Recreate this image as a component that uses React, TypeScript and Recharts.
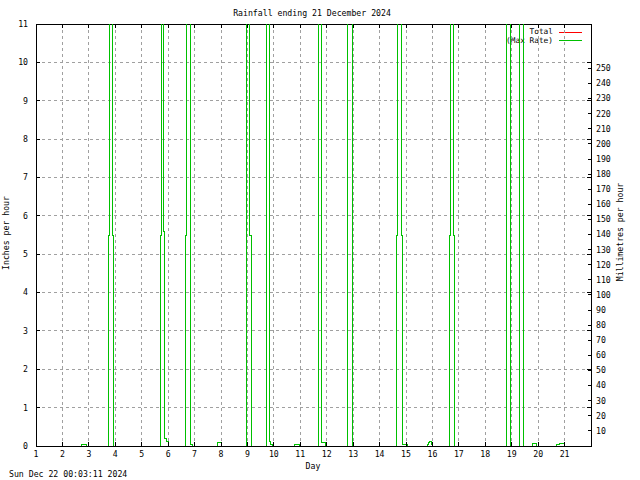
import { ComposedChart, Line, XAxis, YAxis, CartesianGrid, ReferenceArea } from 'recharts';

// plot frame (gnuplot style), used for inward tick marks
const PLOT_TOP = 24;
const PLOT_BOTTOM = 446;
const PLOT_LEFT = 36;
const PLOT_RIGHT = 591;
const TICK_LEN = 4;

const TITLE = 'Rainfall ending 21 December 2024';
const STAMP = 'Sun Dec 22 00:03:11 2024';

const dayTicks = [1, 2, 3, 4, 5, 6, 7, 8, 9, 10, 11, 12, 13, 14, 15, 16, 17, 18, 19, 20, 21];
const inchTicks = [0, 1, 2, 3, 4, 5, 6, 7, 8, 9, 10, 11];
const mmTicks = [10, 20, 30, 40, 50, 60, 70, 80, 90, 100, 110, 120, 130, 140, 150, 160, 170, 180, 190, 200, 210, 220, 230, 240, 250];

// max rain rate, inches/hour (step series, null = gap between showers)
const rateDays = [
  2.71, 2.71, 2.75, 2.87, 2.92, 2.92,
  3.74, 3.74, 3.78, 3.91, 3.94, 3.94,
  5.72, 5.72, 5.76, 5.84, 5.86, 5.93, 6.01, 6.03, 6.03,
  6.65, 6.65, 6.68, 6.84, 6.93, 6.93,
  7.85, 7.85, 8.02, 8.02,
  8.95, 8.95, 9.08, 9.14, 9.14,
  9.73, 9.73, 9.82, 9.88, 9.96, 9.96,
  10.79, 10.79, 10.97, 10.97,
  11.7, 11.7, 11.81, 11.94, 11.94,
  12.77, 12.77, 12.98, 12.98,
  14.64, 14.64, 14.69, 14.84, 14.88, 15.04, 15.04,
  15.8, 15.8, 15.85, 15.9, 15.95, 15.99, 15.99,
  16.65, 16.65, 16.69, 16.78, 16.83, 16.83,
  18.81, 18.81, 18.94, 18.94,
  19.3, 19.3, 19.45, 19.45,
  19.8, 19.8, 19.95, 19.95,
  20.71, 20.71, 20.8, 21.0,
];
const rateInches = [
  0, 0.03, 0.05, 0.03, 0, null,
  0, 5.5, 12, 5.5, 0, null,
  0, 5.5, 12, 5.6, 0.2, 0.11, 0.03, 0, null,
  0, 5.5, 12, 0.04, 0, null,
  0, 0.1, 0, null,
  0, 12, 5.5, 0, null,
  0, 12, 0.11, 0.05, 0, null,
  0, 0.04, 0, null,
  0, 12, 0.09, 0, null,
  0, 12, 0, null,
  0, 5.5, 12, 5.5, 0.05, 0, null,
  0, 0.04, 0.08, 0.12, 0.04, 0, null,
  0, 5.5, 12, 5.5, 0, null,
  0, 12, 0, null,
  0, 12, 0, null,
  0, 0.07, 0, null,
  0, 0.04, 0.07, 0,
];

const legendItems = [
  { label: 'Total', color: '#ff0000' },
  { label: '(Max Rate)', color: '#00c000' },
];

const data = rateDays.map((day, i) => ({ day, rate: rateInches[i] }));

const FONT = '"DejaVu Sans Mono", "Liberation Mono", monospace';

const DayTick = (props: any) => {
  const { x, y, payload } = props;
  return (
    <g shapeRendering="crispEdges">
      <line x1={x} x2={x} y1={PLOT_BOTTOM} y2={PLOT_BOTTOM - TICK_LEN} stroke="#000" />
      <line x1={x} x2={x} y1={PLOT_TOP} y2={PLOT_TOP + TICK_LEN} stroke="#000" />
      <text x={x} y={y} dy="0.35em" textAnchor="middle" fontSize={8.2} fill="#000">
        {payload.value}
      </text>
    </g>
  );
};

const InchTick = (props: any) => {
  const { x, y, payload } = props;
  return (
    <g shapeRendering="crispEdges">
      <line x1={PLOT_LEFT} x2={PLOT_LEFT + TICK_LEN} y1={y} y2={y} stroke="#000" />
      <line x1={PLOT_RIGHT - TICK_LEN} x2={PLOT_RIGHT} y1={y} y2={y} stroke="#000" />
      <text x={x} y={y} dy="0.35em" textAnchor="end" fontSize={8.2} fill="#000">
        {payload.value}
      </text>
    </g>
  );
};

const MmTick = (props: any) => {
  const { x, y, payload } = props;
  return (
    <g shapeRendering="crispEdges">
      <line x1={PLOT_RIGHT - 3} x2={PLOT_RIGHT} y1={y} y2={y} stroke="#000" />
      <text x={x - 3} y={y} dy="0.35em" textAnchor="start" fontSize={8.2} fill="#000">
        {payload.value}
      </text>
    </g>
  );
};

const App = () => {
  return (
    <div style={{ position: 'absolute', left: 0, top: 0, width: 640, height: 480, background: '#fff', fontFamily: FONT }}>
      <svg width={640} height={480} style={{ position: 'absolute', left: 0, top: 0 }} fontFamily={FONT} fontSize={8.2}>
        <text x={312} y={13} dy="0.35em" textAnchor="middle">{TITLE}</text>
        <text x={9} y={474.5} dy="0.35em">{STAMP}</text>
        <text x={313} y={466} dy="0.35em" textAnchor="middle">Day</text>
        <text transform="translate(6,233) rotate(-90)" dy="0.35em" textAnchor="middle">Inches per hour</text>
        <text transform="translate(620,232) rotate(-90)" dy="0.35em" textAnchor="middle">Millimetres per hour</text>
        {legendItems.map((item, i) => (
          <g key={item.label}>
            <text x={553} y={31 + i * 9.5} dy="0.35em" textAnchor="end" fontSize={7.8}>{item.label}</text>
            <line x1={559} x2={582} y1={32 + i * 8} y2={32 + i * 8} stroke={item.color} shapeRendering="crispEdges" />
          </g>
        ))}
      </svg>
      <div style={{ position: 'relative' }}>
        <ComposedChart width={640} height={480} data={data} margin={{ top: PLOT_TOP, right: 0, bottom: 0, left: 0 }}>
          <CartesianGrid stroke="#a0a0a0" strokeDasharray="3 3" shapeRendering="crispEdges" />
          <XAxis
            dataKey="day"
            type="number"
            domain={[1, 22]}
            ticks={dayTicks}
            interval={0}
            height={34}
            axisLine={false}
            tickLine={false}
            tick={DayTick}
            allowDataOverflow
          />
          <YAxis
            type="number"
            domain={[0, 11]}
            ticks={inchTicks}
            interval={0}
            width={36}
            axisLine={false}
            tickLine={false}
            tick={InchTick}
            allowDataOverflow
          />
          <YAxis
            yAxisId="mm"
            orientation="right"
            type="number"
            domain={[0, 279.4]}
            ticks={mmTicks}
            interval={0}
            width={49}
            axisLine={false}
            tickLine={false}
            tick={MmTick}
            allowDataOverflow
          />
          <ReferenceArea x1={1} x2={22} y1={0} y2={11} fill="none" stroke="#000" strokeOpacity={1} shapeRendering="crispEdges" />
          <Line
            type="stepAfter"
            dataKey="rate"
            stroke="#00c000"
            strokeWidth={1}
            shapeRendering="crispEdges"
            dot={false}
            activeDot={false}
            isAnimationActive={false}
          />
        </ComposedChart>
      </div>
    </div>
  );
};

export default App;
